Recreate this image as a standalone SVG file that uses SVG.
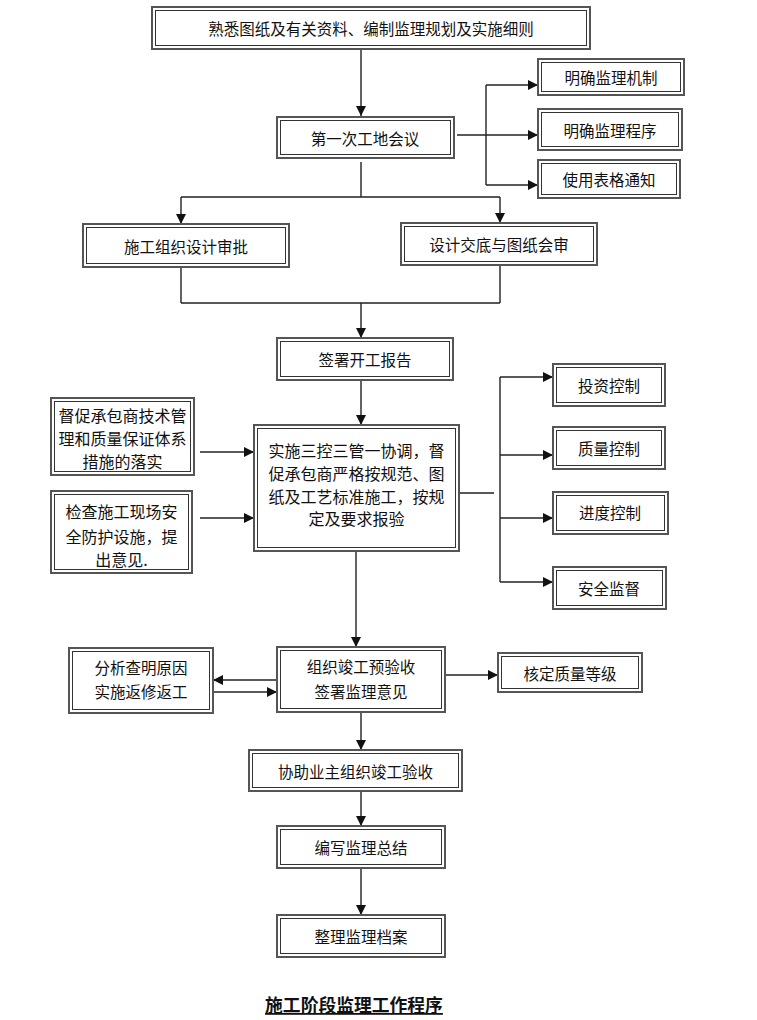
<svg xmlns="http://www.w3.org/2000/svg" width="757" height="1020" viewBox="0 0 757 1020">
<style>
.o{fill:#fff;stroke:#555;stroke-width:2}
.i{fill:none;stroke:#333;stroke-width:1}
.t{font-family:"Noto Sans CJK SC","Liberation Sans",sans-serif;font-size:15.5px;fill:#111;text-anchor:middle;dominant-baseline:central}
.c{fill:none;stroke:#222;stroke-width:1.4}
.title{font-family:"Noto Sans CJK SC","Liberation Serif",serif;font-size:17.8px;font-weight:bold;fill:#111;text-anchor:middle;text-decoration:underline}
</style>
<defs>
<marker id="a" markerUnits="userSpaceOnUse" markerWidth="10" markerHeight="10" refX="10" refY="5" orient="auto">
<path d="M0,0 L10,5 L0,10 z" fill="#111"/>
</marker>
</defs>
<rect width="757" height="1020" fill="#fff"/>
<g id="connectors">
<path class="c" d="M361,49 V116" marker-end="url(#a)"/>
<path class="c" d="M457,135 H538" marker-end="url(#a)"/>
<path class="c" d="M486,85 V185"/>
<path class="c" d="M486,85 H538" marker-end="url(#a)"/>
<path class="c" d="M486,185 H538" marker-end="url(#a)"/>
<path class="c" d="M361,162 V197 M181,197 H500"/>
<path class="c" d="M181,197 V224" marker-end="url(#a)"/>
<path class="c" d="M500,197 V223" marker-end="url(#a)"/>
<path class="c" d="M181,267 V303 M500,265 V303 M181,303 H500"/>
<path class="c" d="M361,303 V338" marker-end="url(#a)"/>
<path class="c" d="M361,380 V425" marker-end="url(#a)"/>
<path class="c" d="M200,452 H254" marker-end="url(#a)"/>
<path class="c" d="M200,518 H254" marker-end="url(#a)"/>
<path class="c" d="M459,493 H494 M500,377 V582"/>
<path class="c" d="M500,377 H553" marker-end="url(#a)"/>
<path class="c" d="M500,455 H553" marker-end="url(#a)"/>
<path class="c" d="M500,518 H553" marker-end="url(#a)"/>
<path class="c" d="M500,582 H553" marker-end="url(#a)"/>
<path class="c" d="M356,551 V647" marker-end="url(#a)"/>
<path class="c" d="M277,680 H213" marker-end="url(#a)"/>
<path class="c" d="M213,692 H277" marker-end="url(#a)"/>
<path class="c" d="M445,675 H498" marker-end="url(#a)"/>
<path class="c" d="M361,712 V750" marker-end="url(#a)"/>
<path class="c" d="M361,791 V826" marker-end="url(#a)"/>
<path class="c" d="M361,868 V915" marker-end="url(#a)"/>
</g>
<g id="n1"><rect class="o" x="152" y="7" width="438" height="42"/><rect class="i" x="155.5" y="10.5" width="431" height="35"/><text class="t" x="371" y="28">熟悉图纸及有关资料、编制监理规划及实施细则</text></g>
<g id="n2"><rect class="o" x="277" y="117" width="177" height="41"/><rect class="i" x="280.5" y="120.5" width="170" height="34"/><text class="t" x="365" y="137.5">第一次工地会议</text></g>
<g id="n3"><rect class="o" x="538" y="59" width="146" height="36"/><rect class="i" x="541.5" y="62.5" width="139" height="29"/><text class="t" x="611" y="77">明确监理机制</text></g>
<g id="n4"><rect class="o" x="538" y="109" width="144" height="41"/><rect class="i" x="541.5" y="112.5" width="137" height="34"/><text class="t" x="610" y="129.5">明确监理程序</text></g>
<g id="n5"><rect class="o" x="538" y="160" width="142" height="38"/><rect class="i" x="541.5" y="163.5" width="135" height="31"/><text class="t" x="609" y="179">使用表格通知</text></g>
<g id="n6"><rect class="o" x="83" y="224" width="206" height="43"/><rect class="i" x="86.5" y="227.5" width="199" height="36"/><text class="t" x="186" y="245.5">施工组织设计审批</text></g>
<g id="n7"><rect class="o" x="401" y="223" width="196" height="42"/><rect class="i" x="404.5" y="226.5" width="189" height="35"/><text class="t" x="499" y="244">设计交底与图纸会审</text></g>
<g id="n8"><rect class="o" x="277" y="338" width="176" height="42"/><rect class="i" x="280.5" y="341.5" width="169" height="35"/><text class="t" x="365" y="359">签署开工报告</text></g>
<g id="n9"><rect class="o" x="254" y="425" width="205" height="126"/><rect class="i" x="257.5" y="428.5" width="198" height="119"/>
<text class="t" x="356.5" y="450" style="font-size:16px">实施三控三管一协调，督</text>
<text class="t" x="356.5" y="473" style="font-size:16px">促承包商严格按规范、图</text>
<text class="t" x="356.5" y="495.5" style="font-size:16px">纸及工艺标准施工，按规</text>
<text class="t" x="356.5" y="518" style="font-size:16px">定及要求报验</text></g>
<g id="n10"><rect class="o" x="51" y="398" width="143" height="77"/><rect class="i" x="54.5" y="401.5" width="136" height="70"/>
<text class="t" x="122.5" y="415" style="font-size:16px">督促承包商技术管</text>
<text class="t" x="122.5" y="438" style="font-size:16px">理和质量保证体系</text>
<text class="t" x="122.5" y="461" style="font-size:16px">措施的落实</text></g>
<g id="n11"><rect class="o" x="51" y="491" width="141" height="82"/><rect class="i" x="54.5" y="494.5" width="134" height="75"/>
<text class="t" x="121.5" y="511" style="font-size:16px">检查施工现场安</text>
<text class="t" x="121.5" y="536" style="font-size:16px">全防护设施，提</text>
<text class="t" x="121.5" y="559" style="font-size:16px">出意见.</text></g>
<g id="n12"><rect class="o" x="553" y="364" width="112" height="42"/><rect class="i" x="556.5" y="367.5" width="105" height="35"/><text class="t" x="609" y="385">投资控制</text></g>
<g id="n13"><rect class="o" x="553" y="427" width="112" height="42"/><rect class="i" x="556.5" y="430.5" width="105" height="35"/><text class="t" x="609" y="448">质量控制</text></g>
<g id="n14"><rect class="o" x="553" y="492" width="115" height="42"/><rect class="i" x="556.5" y="495.5" width="108" height="35"/><text class="t" x="610" y="512">进度控制</text></g>
<g id="n15"><rect class="o" x="553" y="567" width="113" height="42"/><rect class="i" x="556.5" y="570.5" width="106" height="35"/><text class="t" x="609" y="588">安全监督</text></g>
<g id="n16"><rect class="o" x="277" y="647" width="168" height="65"/><rect class="i" x="280.5" y="650.5" width="161" height="58"/>
<text class="t" x="361" y="666">组织竣工预验收</text>
<text class="t" x="361" y="691">签署监理意见</text></g>
<g id="n17"><rect class="o" x="69" y="648" width="144" height="65"/><rect class="i" x="72.5" y="651.5" width="137" height="58"/>
<text class="t" x="141" y="667">分析查明原因</text>
<text class="t" x="141" y="691">实施返修返工</text></g>
<g id="n18"><rect class="o" x="498" y="653" width="144" height="39"/><rect class="i" x="501.5" y="656.5" width="137" height="32"/><text class="t" x="570" y="673">核定质量等级</text></g>
<g id="n19"><rect class="o" x="249" y="750" width="213" height="41"/><rect class="i" x="252.5" y="753.5" width="206" height="34"/><text class="t" x="355.5" y="771">协助业主组织竣工验收</text></g>
<g id="n20"><rect class="o" x="277" y="826" width="168" height="42"/><rect class="i" x="280.5" y="829.5" width="161" height="35"/><text class="t" x="361" y="847">编写监理总结</text></g>
<g id="n21"><rect class="o" x="277" y="915" width="168" height="42"/><rect class="i" x="280.5" y="918.5" width="161" height="35"/><text class="t" x="361" y="936">整理监理档案</text></g>
<text class="title" x="354" y="1012">施工阶段监理工作程序</text>
</svg>
